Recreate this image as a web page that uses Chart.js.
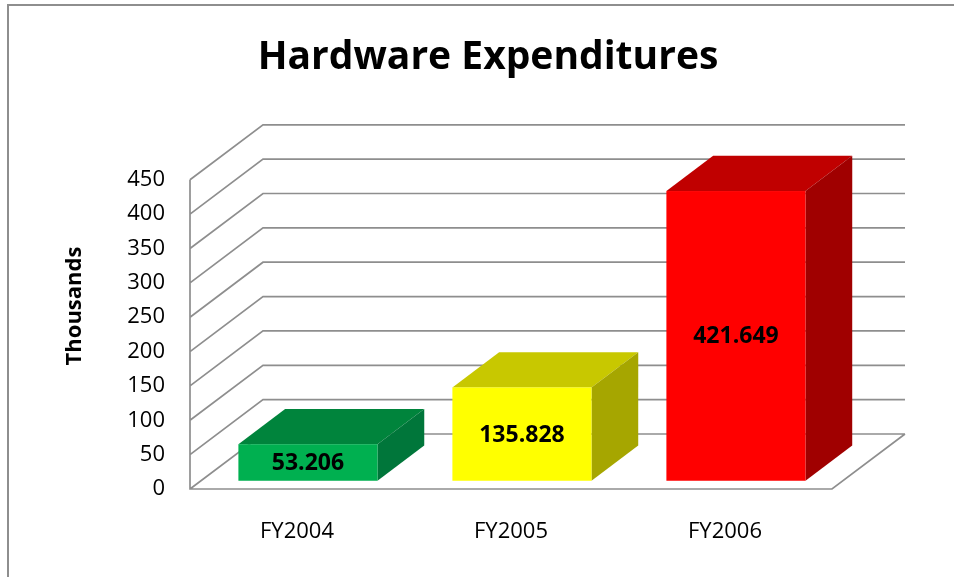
<!DOCTYPE html>
<html>
<head>
<meta charset="utf-8">
<style>
  html, body { margin: 0; padding: 0; background: #fff; }
  #wrap { width: 954px; height: 577px; }
</style>
<script src="https://cdn.jsdelivr.net/npm/chart.js@4.4.1/dist/chart.umd.min.js"></script>
</head>
<body>
<div id="wrap"><canvas id="myChart" width="954" height="577"></canvas></div>
<script>
// chart data
const categories = ['FY2004', 'FY2005', 'FY2006'];
const expenditures = [53.206, 135.828, 421.649];
const yTicks = [0, 50, 100, 150, 200, 250, 300, 350, 400, 450];
const yTitle = 'Thousands';

// front / top / side colours of each box
const frontColors = ['#00B050', '#FFFF00', '#FF0000'];
const topColors = ['#00843C', '#C8C800', '#C00000'];
const sideColors = ['#00763A', '#A6A600', '#A00000'];

// depth of the 3d floor, and where the boxes sit inside it
const depthX = 73, depthY = -55;
const barFront = 0.15, barBack = 0.79;
const gridColor = '#8e8e8e';
const fontName = "'Open Sans', 'Liberation Sans', sans-serif";

// draws the outer frame, the walls and the 3d boxes
const threeD = {
  id: 'threeD',
  afterLayout(chart) {
    // centre the title over the whole frame, not just the plot
    if (chart.titleBlock) {
      chart.titleBlock.left = 22;
      chart.titleBlock.right = 954;
    }
  },
  beforeDraw(chart) {
    const c = chart.ctx;
    c.save();
    c.strokeStyle = gridColor;
    c.lineWidth = 2;
    c.beginPath();
    c.moveTo(8, 600);
    c.lineTo(8, 5);
    c.lineTo(960, 5);
    c.stroke();
    c.restore();
  },
  beforeDatasetsDraw(chart) {
    const c = chart.ctx;
    const y = chart.scales.y;
    const area = chart.chartArea;
    c.save();
    c.strokeStyle = gridColor;
    c.lineWidth = 1.7;
    c.beginPath();
    // gridlines: front edge -> back wall
    y.ticks.forEach(t => {
      const py = y.getPixelForValue(t.value);
      c.moveTo(area.left, py);
      c.lineTo(area.left + depthX, py + depthY);
      c.lineTo(area.right + depthX, py + depthY);
    });
    // front left edge
    c.moveTo(area.left, y.getPixelForValue(yTicks[yTicks.length - 1]));
    c.lineTo(area.left, area.bottom);
    // floor
    c.lineTo(area.right, area.bottom);
    c.lineTo(area.right + depthX, area.bottom + depthY);
    c.stroke();

    // boxes
    const meta = chart.getDatasetMeta(0);
    const base = y.getPixelForValue(0);
    meta.data.forEach((bar, i) => {
      const half = bar.width / 2;
      const x0 = bar.x - half + depthX * barFront;
      const x1 = bar.x + half + depthX * barFront;
      const yb = base + depthY * barFront;
      const yt = bar.y + depthY * barFront;
      const dx = depthX * (barBack - barFront);
      const dy = depthY * (barBack - barFront);

      c.fillStyle = topColors[i];
      c.beginPath();
      c.moveTo(x0, yt);
      c.lineTo(x0 + dx, yt + dy);
      c.lineTo(x1 + dx, yt + dy);
      c.lineTo(x1, yt);
      c.closePath();
      c.fill();

      c.fillStyle = sideColors[i];
      c.beginPath();
      c.moveTo(x1, yt);
      c.lineTo(x1 + dx, yt + dy);
      c.lineTo(x1 + dx, yb + dy);
      c.lineTo(x1, yb);
      c.closePath();
      c.fill();

      c.fillStyle = frontColors[i];
      c.fillRect(x0, yt, x1 - x0, yb - yt);

      // value label
      c.fillStyle = '#000';
      c.font = 'bold 23px ' + fontName;
      c.textAlign = 'center';
      c.textBaseline = 'middle';
      c.fillText(expenditures[i].toFixed(3), (x0 + x1) / 2, (yt + yb) / 2 + 1);
    });
    c.restore();
    return false;
  },
  afterDraw(chart) {
    // axis title, sits a bit above the middle of the axis like the original
    const c = chart.ctx;
    c.save();
    c.translate(75, 306);
    c.rotate(-Math.PI / 2);
    c.fillStyle = '#000';
    c.font = 'bold 22px ' + fontName;
    c.textAlign = 'center';
    c.textBaseline = 'middle';
    c.fillText(yTitle, 0, 0);
    c.restore();
  }
};

const ctx = document.getElementById('myChart');

new Chart(ctx, {
  type: 'bar',
  data: {
    labels: categories,
    datasets: [{
      label: 'Hardware Expenditures',
      data: expenditures,
      backgroundColor: frontColors,
      categoryPercentage: 1,
      barPercentage: 0.65
    }]
  },
  options: {
    responsive: false,
    animation: false,
    layout: { padding: { left: 0, right: 122, top: 0, bottom: 0 } },
    plugins: {
      legend: { display: false },
      tooltip: { enabled: false },
      title: {
        display: true,
        text: 'Hardware Expenditures',
        color: '#000',
        font: { family: fontName, size: 39, weight: 'bold' },
        padding: { top: 34, bottom: 99 }
      }
    },
    scales: {
      x: {
        grid: { display: false, drawTicks: false },
        border: { display: false },
        ticks: {
          color: '#000',
          font: { family: fontName, size: 22 },
          padding: 30
        },
        afterFit(scale) { scale.height = 88; }
      },
      y: {
        min: 0,
        max: 450,
        grid: { display: false, drawTicks: false },
        border: { display: false },
        afterBuildTicks(scale) {
          scale.ticks = yTicks.map(v => ({ value: v }));
        },
        ticks: {
          color: '#000',
          font: { family: fontName, size: 22 },
          padding: 25
        },
        afterFit(scale) { scale.width = 190; }
      }
    }
  },
  plugins: [threeD]
});
</script>
</body>
</html>
